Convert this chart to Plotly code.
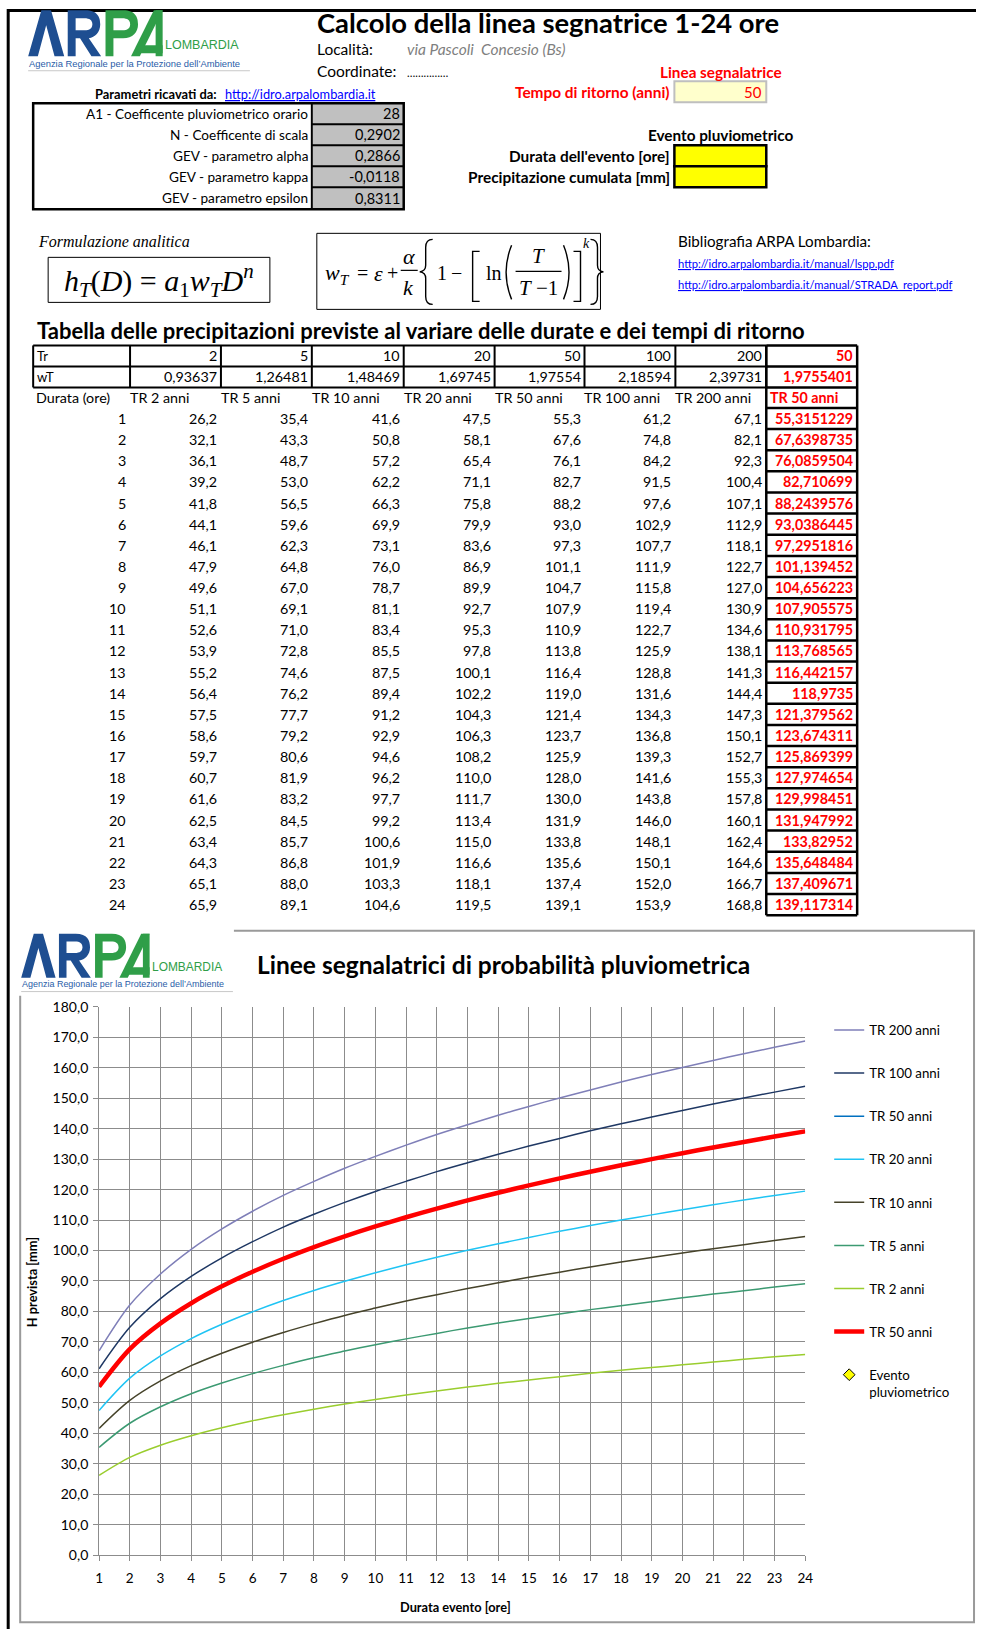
import plotly.graph_objects as go

W, H = 984, 1637
FONT = "Lato"
SERIF = "Liberation Serif"
LOGOF = "Liberation Sans"

# ------------------------------------------------------------------ data
param_labels = ["A1 - Coefficente pluviometrico orario", "N - Coefficente di scala",
                "GEV - parametro alpha", "GEV - parametro kappa", "GEV - parametro epsilon"]
param_values = [28, 0.2902, 0.2866, -0.0118, 0.8311]
tempo_ritorno_scelto = 50

tr_anni = [2, 5, 10, 20, 50, 100, 200]
wt_values = [0.93637, 1.26481, 1.48469, 1.69745, 1.97554, 2.18594, 2.39731]
wt_scelto = 1.9755401
tr_labels = ["TR 2 anni", "TR 5 anni", "TR 10 anni", "TR 20 anni", "TR 50 anni", "TR 100 anni", "TR 200 anni"]
sel_label = "TR 50 anni"

durate = [1, 2, 3, 4, 5, 6, 7, 8, 9, 10, 11, 12, 13, 14, 15, 16, 17, 18, 19, 20, 21, 22, 23, 24]
h_tr2 = [26.2, 32.1, 36.1, 39.2, 41.8, 44.1, 46.1, 47.9, 49.6, 51.1, 52.6, 53.9, 55.2, 56.4, 57.5, 58.6,
         59.7, 60.7, 61.6, 62.5, 63.4, 64.3, 65.1, 65.9]
h_tr5 = [35.4, 43.3, 48.7, 53.0, 56.5, 59.6, 62.3, 64.8, 67.0, 69.1, 71.0, 72.8, 74.6, 76.2, 77.7, 79.2,
         80.6, 81.9, 83.2, 84.5, 85.7, 86.8, 88.0, 89.1]
h_tr10 = [41.6, 50.8, 57.2, 62.2, 66.3, 69.9, 73.1, 76.0, 78.7, 81.1, 83.4, 85.5, 87.5, 89.4, 91.2, 92.9,
          94.6, 96.2, 97.7, 99.2, 100.6, 101.9, 103.3, 104.6]
h_tr20 = [47.5, 58.1, 65.4, 71.1, 75.8, 79.9, 83.6, 86.9, 89.9, 92.7, 95.3, 97.8, 100.1, 102.2, 104.3, 106.3,
          108.2, 110.0, 111.7, 113.4, 115.0, 116.6, 118.1, 119.5]
h_tr50 = [55.3, 67.6, 76.1, 82.7, 88.2, 93.0, 97.3, 101.1, 104.7, 107.9, 110.9, 113.8, 116.4, 119.0, 121.4, 123.7,
          125.9, 128.0, 130.0, 131.9, 133.8, 135.6, 137.4, 139.1]
h_tr100 = [61.2, 74.8, 84.2, 91.5, 97.6, 102.9, 107.7, 111.9, 115.8, 119.4, 122.7, 125.9, 128.8, 131.6, 134.3, 136.8,
           139.3, 141.6, 143.8, 146.0, 148.1, 150.1, 152.0, 153.9]
h_tr200 = [67.1, 82.1, 92.3, 100.4, 107.1, 112.9, 118.1, 122.7, 127.0, 130.9, 134.6, 138.1, 141.3, 144.4, 147.3, 150.1,
           152.7, 155.3, 157.8, 160.1, 162.4, 164.6, 166.7, 168.8]
h_sel = [55.3151229, 67.6398735, 76.0859504, 82.710699, 88.2439576, 93.0386445, 97.2951816, 101.139452,
         104.656223, 107.905575, 110.931795, 113.768565, 116.442157, 118.9735, 121.379562, 123.674311,
         125.869399, 127.974654, 129.998451, 131.947992, 133.82952, 135.648484, 137.409671, 139.117314]
# empty input cells of the "Evento pluviometrico" box
evento_durata = [None]
evento_precip = [None]

y_ticks = [0, 10, 20, 30, 40, 50, 60, 70, 80, 90, 100, 110, 120, 130, 140, 150, 160, 170, 180]

# ------------------------------------------------------------------ helpers
shapes, annots = [], []
# page-to-figure calibration (the page is photographed slightly scaled/offset)
SC, OX, OY = 0.989, 2.8, 9.8


def X(x):
    return ((x - OX) / SC) / W


def Y(y):
    return 1 - ((y - OY) / SC) / H


def fmt(v, d=None):
    s = f"{v:.{d}f}" if d is not None else repr(v)
    return s.replace(".", ",")


def rect(x0, y0, x1, y1, color="black", width=1, fill=None):
    shapes.append(dict(type="rect", xref="paper", yref="paper", x0=X(x0), x1=X(x1), y0=Y(y1), y1=Y(y0),
                       line=dict(color=color, width=width), fillcolor=fill or "rgba(0,0,0,0)", layer="above"))


def hline(x0, x1, y, color="black", width=1):
    shapes.append(dict(type="line", xref="paper", yref="paper", x0=X(x0), x1=X(x1), y0=Y(y), y1=Y(y),
                       line=dict(color=color, width=width)))


def vline(x, y0, y1, color="black", width=1):
    shapes.append(dict(type="line", xref="paper", yref="paper", x0=X(x), x1=X(x), y0=Y(y0), y1=Y(y1),
                       line=dict(color=color, width=width)))


def text(x, y, s, size=14, color="black", anchor="left", family=FONT, under=False, angle=0):
    f = dict(family=family, size=size, color=color)
    if under:
        f["lineposition"] = "under"
    annots.append(dict(xref="paper", yref="paper", x=X(x), y=Y(y), text=s, showarrow=False,
                       xanchor=anchor, yanchor="middle", font=f, borderpad=0, textangle=angle))


def path(cmds, fill=None, color=None, width=0):
    out = []
    for c in cmds:
        if c[0] == "Z":
            out.append("Z")
            continue
        pts = c[1:]
        coords = []
        for i in range(0, len(pts), 2):
            coords.append(f"{X(pts[i]):.6f},{Y(pts[i + 1]):.6f}")
        out.append(c[0] + " " + " ".join(coords))
    shapes.append(dict(type="path", xref="paper", yref="paper", path=" ".join(out),
                       fillcolor=fill or "rgba(0,0,0,0)",
                       line=dict(color=color or "rgba(0,0,0,0)", width=width)))


def logo(ox, oy, s):
    sx, sy = 0.88 * s, s
    blue, green = "#1E4E91", "#2F9E48"

    def T(cmds):
        res = []
        for c in cmds:
            if c[0] == "Z":
                res.append(c)
                continue
            p = list(c[1:])
            q = []
            for i in range(0, len(p), 2):
                q += [ox + p[i] * sx, oy + p[i + 1] * sy]
            res.append((c[0], *q))
        return res

    path(T([("M", 0, 46), ("L", 15, 0), ("L", 26, 0), ("L", 41, 46), ("L", 30, 46), ("L", 20.5, 15),
            ("L", 11, 46), ("Z",)]), fill=blue)
    path(T([("M", 45, 46), ("L", 45, 0), ("L", 65, 0), ("C", 79, 0, 82, 7, 82, 14), ("C", 82, 22, 76, 27, 69, 28),
            ("L", 83, 46), ("L", 72, 46), ("L", 59, 28), ("L", 54, 28), ("L", 54, 46), ("Z",)]), fill=blue)
    path(T([("M", 54, 8), ("L", 64, 8), ("C", 70, 8, 73, 10, 73, 14), ("C", 73, 18, 70, 20, 64, 20),
            ("L", 54, 20), ("Z",)]), fill="white")
    path(T([("M", 88, 46), ("L", 88, 0), ("L", 108, 0), ("C", 122, 0, 125, 7, 125, 14),
            ("C", 125, 22, 119, 28, 108, 28), ("L", 97, 28), ("L", 97, 46), ("Z",)]), fill=green)
    path(T([("M", 97, 8), ("L", 107, 8), ("C", 113, 8, 116, 10, 116, 14), ("C", 116, 18, 113, 20, 107, 20),
            ("L", 97, 20), ("Z",)]), fill="white")
    path(T([("M", 117, 46), ("L", 143, 0), ("L", 153, 0), ("L", 127, 46), ("Z",)]), fill=green)
    path(T([("M", 145, 0), ("L", 153, 0), ("L", 153, 46), ("L", 145, 46), ("Z",)]), fill=green)
    path(T([("M", 127, 35), ("L", 153, 35), ("L", 153, 43), ("L", 123, 43), ("Z",)]), fill=green)
    text(ox + 155 * sx, oy + 35 * sy, "LOMBARDIA", 12.5 * s, green, "left", LOGOF)
    text(ox, oy + 53 * sy, "Agenzia Regionale per la Protezione dell\u2019Ambiente", 9.4 * s, "#2A5DA8", "left", LOGOF)
    hline(ox, ox + 222 * s, oy + 60.5 * sy, "#C8C8C8", 1)


# ------------------------------------------------------------------ page frame
shapes.append(dict(type="line", xref="paper", yref="paper", x0=X(6), x1=1, y0=1 - 1.5 / H, y1=1 - 1.5 / H,
                   line=dict(color="black", width=3)))
shapes.append(dict(type="line", xref="paper", yref="paper", x0=X(7), x1=X(7), y0=0, y1=1,
                   line=dict(color="black", width=3)))

# ------------------------------------------------------------------ header
logo(27, 11, 1.0)
text(315, 23, "<b>Calcolo della linea segnatrice 1-24 ore</b>", 27.4)
text(315, 50, "Località:", 15.5)
text(405, 50, "<i>via Pascoli  Concesio (Bs)</i>", 15.5, "#7F7F7F")
text(315, 72, "Coordinate:", 15.5)
text(405, 73, "……………", 11)
text(93, 95, "<b>Parametri ricavati da:</b>", 12.9)
text(223, 95, "http://idro.arpalombardia.it", 12.8, "#0000FF", under=True)

text(721, 73, "<b>Linea segnalatrice</b>", 15.3, "#FF0000", "center")
text(671, 93, "<b>Tempo di ritorno (anni)</b>", 15.4, "#FF0000", "right")
rect(674, 82, 766, 103, "#BFBFBF", 2, "#FFFFCC")
text(763, 93, str(tempo_ritorno_scelto), 15, "#FF0000", "right")

# parameters table
p_rows = [104, 125, 146, 167, 188, 210]
rect(312, 104, 403, 210, "black", 0, "#C0C0C0")
for i, (lab, val) in enumerate(zip(param_labels, param_values)):
    yc = (p_rows[i] + p_rows[i + 1]) / 2
    text(308, yc, lab, 13.6, "black", "right")
    text(400, yc, fmt(val), 14.5, "black", "right")
    if i > 0:
        hline(311, 403, p_rows[i], "black", 2)
vline(311, 104, 210, "black", 2)
rect(32, 104, 403, 210, "black", 2.5)

# evento pluviometrico
text(720, 136, "<b>Evento pluviometrico</b>", 15.3, "black", "center")
text(671, 157, "<b>Durata dell'evento [ore]</b>", 15.4, "black", "right")
text(671, 178, "<b>Precipitazione cumulata [mm]</b>", 15.4, "black", "right")
rect(674, 146, 766, 167, "black", 2.5, "#FFFF00")
rect(674, 167, 766, 188, "black", 2.5, "#FFFF00")

# ------------------------------------------------------------------ formulas
text(36, 242, "<i>Formulazione analitica</i>", 16, "black", "left", SERIF)
rect(47, 258, 269, 303, "black", 1)
text(158, 281, "<i>h</i><sub><i>T</i></sub>(<i>D</i>) = <i>a</i><sub>1</sub><i>w</i><sub><i>T</i></sub>"
     "<i>D</i><sup><i>n</i></sup>", 30, "black", "center", SERIF)
rect(316, 234, 600, 310, "black", 1)
text(337, 275, "<i>w</i><sub><i>T</i></sub>", 22, "black", "center", SERIF)
text(362, 274, "=", 20, "black", "center", SERIF)
text(378, 274, "<i>ε</i>", 22, "black", "center", SERIF)
text(392, 274, "+", 20, "black", "center", SERIF)
text(408, 257, "<i>α</i>", 22, "black", "center", SERIF)
hline(400, 417, 271, "black", 1.2)
text(408, 288, "<i>k</i>", 22, "black", "center", SERIF)
path([("M", 432, 240), ("Q", 425, 240, 425, 248), ("L", 425, 266), ("Q", 425, 272, 419, 272.5),
      ("Q", 425, 273, 425, 279), ("L", 425, 297), ("Q", 425, 305, 432, 305)], color="black", width=1.4)
text(441, 274, "1", 20, "black", "center", SERIF)
text(456, 274, "−", 20, "black", "center", SERIF)
path([("M", 479, 252), ("L", 472, 252), ("L", 472, 302), ("L", 479, 302)], color="black", width=1.4)
text(493, 274, "ln", 20, "black", "center", SERIF)
path([("M", 511, 246), ("Q", 500, 273, 511, 300)], color="black", width=1.4)
text(538, 257, "<i>T</i>", 21, "black", "center", SERIF)
hline(515, 561, 272, "black", 1.2)
text(538, 289, "<i>T</i> −1", 21, "black", "center", SERIF)
path([("M", 563, 246), ("Q", 574, 273, 563, 300)], color="black", width=1.4)
path([("M", 573, 252), ("L", 580, 252), ("L", 580, 302), ("L", 573, 302)], color="black", width=1.4)
text(586, 244, "<i>k</i>", 14, "black", "center", SERIF)
path([("M", 590, 240), ("Q", 597, 240, 597, 248), ("L", 597, 266), ("Q", 597, 272, 603, 272.5),
      ("Q", 597, 273, 597, 279), ("L", 597, 297), ("Q", 597, 305, 590, 305)], color="black", width=1.4)

text(677, 242, "Bibliografia ARPA Lombardia:", 15.2)
text(677, 264, "http://idro.arpalombardia.it/manual/lspp.pdf", 11.2, "#0000FF", under=True)
text(677, 285, "http://idro.arpalombardia.it/manual/STRADA_report.pdf", 11.2, "#0000FF", under=True)

# ------------------------------------------------------------------ table
text(35, 331, "<b>Tabella delle precipitazioni previste al variare delle durate e dei tempi di ritorno</b>", 22)
cols = [32, 129, 220, 311, 403, 494, 584, 675, 766, 857]
r_top, r_tr, r_wt, r_dur = 346, 367, 388, 408.5
ROW_H = 21.12
TS = 14.3
RED = "#FF0000"

text(35, (r_top + r_tr) / 2, "Tr", 13)
text(35, (r_tr + r_wt) / 2, "wT", 13)
for j in range(7):
    text(cols[j + 2] - 3, (r_top + r_tr) / 2, str(tr_anni[j]), TS, "black", "right")
    text(cols[j + 2] - 3, (r_tr + r_wt) / 2, fmt(wt_values[j]), TS, "black", "right")
    text(cols[j + 1] - 1, (r_wt + r_dur) / 2, tr_labels[j], TS, "black", "left")
text(cols[9] - 3, (r_top + r_tr) / 2, f"<b>{tempo_ritorno_scelto}</b>", TS, RED, "right")
text(cols[9] - 3, (r_tr + r_wt) / 2, f"<b>{fmt(wt_scelto)}</b>", TS, RED, "right")
text(34, (r_wt + r_dur) / 2, "Durata (ore)", TS)
text(cols[8] + 3, (r_wt + r_dur) / 2, f"<b>{sel_label}</b>", TS, RED, "left")

series_tab = [h_tr2, h_tr5, h_tr10, h_tr20, h_tr50, h_tr100, h_tr200]
for i, d in enumerate(durate):
    yc = r_dur + ROW_H * (i + 0.5)
    text(cols[1] - 3, yc, str(d), TS, "black", "right")
    for j, s in enumerate(series_tab):
        text(cols[j + 2] - 3, yc, fmt(s[i], 1), TS, "black", "right")
    text(cols[9] - 3, yc, f"<b>{fmt(h_sel[i])}</b>", TS, RED, "right")

for yy in (r_top, r_tr, r_wt):
    hline(cols[0], cols[8], yy, "black", 2)
for xx in cols[:9]:
    vline(xx, r_top, r_wt, "black", 2)
n_rows = len(durate)
bottom = r_dur + ROW_H * n_rows
for k in range(n_rows + 1):
    hline(cols[8], cols[9], r_dur + ROW_H * k, "black", 2.5)
for yy in (r_top, r_tr, r_wt):
    hline(cols[8], cols[9], yy, "black", 2.5)
vline(cols[8], r_top, bottom, "black", 2.5)
vline(cols[9], r_top, bottom, "black", 2.5)

# ------------------------------------------------------------------ chart frame + title
shapes.append(dict(type="rect", xref="paper", yref="paper", x0=X(19), x1=X(974), y0=Y(1622), y1=Y(931),
                   line=dict(color="#9A9A9A", width=2), fillcolor="rgba(0,0,0,0)", layer="below"))
rect(12, 922, 233, 996, "rgba(0,0,0,0)", 0, "white")
logo(20, 934, 0.955)
text(255, 965, "<b>Linee segnalatrici di probabilità pluviometrica</b>", 24.5)
text(455, 1607, "<b>Durata evento [ore]</b>", 12.8, "black", "center")
text(31, 1282, "<b>H prevista [mm]</b>", 12.8, "black", "center", angle=-90)

# ------------------------------------------------------------------ traces
fig = go.Figure()
series_chart = [
    ("TR 200 anni", h_tr200, "#7F7FB8", 1.5),
    ("TR 100 anni", h_tr100, "#1F3864", 1.5),
    ("TR 50 anni", h_tr50, "#0070C0", 1.5),
    ("TR 20 anni", h_tr20, "#1FC4F4", 1.5),
    ("TR 10 anni", h_tr10, "#46432A", 1.5),
    ("TR 5 anni", h_tr5, "#3C9A72", 1.5),
    ("TR 2 anni", h_tr2, "#9ACD2E", 1.5),
    (sel_label, h_sel, "#FF0000", 4.5),
]
for k, (name, vals, col, wd) in enumerate(series_chart):
    fig.add_trace(go.Scatter(x=durate, y=vals, name=name, mode="lines", legendgroup=f"g{k}",
                             line=dict(color=col, width=wd, shape="spline", smoothing=0.9),
                             hoverinfo="x+y+name"))
fig.add_trace(go.Scatter(x=evento_durata, y=evento_precip, name="Evento<br>pluviometrico", mode="markers",
                         legendgroup="g9", showlegend=True,
                         marker=dict(symbol="diamond", size=9, color="#FFFF00", line=dict(color="black", width=1))))

GRID = "#8C8C8C"
fig.update_layout(
    width=W, height=H, margin=dict(l=0, r=0, t=0, b=0),
    paper_bgcolor="white", plot_bgcolor="white",
    separators=",.",
    font=dict(family=FONT, size=13, color="black"),
    xaxis=dict(domain=[X(98), X(805)], range=[1, 24], tick0=1, dtick=1, showgrid=True, gridcolor=GRID,
               gridwidth=1, showline=True, linecolor=GRID, linewidth=1, ticks="outside", ticklen=5,
               tickcolor=GRID, tickfont=dict(size=13.5), zeroline=False, fixedrange=True,
               ticklabelstandoff=6),
    yaxis=dict(domain=[Y(1555), Y(1007)], range=[0, 180], tickvals=y_ticks, tickformat=".1f", showgrid=True,
               gridcolor=GRID, gridwidth=1, showline=True, linecolor=GRID, linewidth=1, ticks="outside",
               ticklen=5, tickcolor=GRID, tickfont=dict(size=14), zeroline=False, fixedrange=True,
               ticklabelstandoff=2),
    legend=dict(x=X(829), y=Y(1015), xanchor="left", yanchor="top", font=dict(size=13.3),
                tracegroupgap=22.8, traceorder="grouped", valign="top", bgcolor="rgba(0,0,0,0)", itemwidth=30),
    shapes=shapes, annotations=annots,
)

fig.write_html(
    "out.html",
    config={"displayModeBar": False},
    post_script="document.documentElement.style.overflow='hidden';"
                "document.body.style.overflow='hidden';document.body.style.margin='0px';",
)
